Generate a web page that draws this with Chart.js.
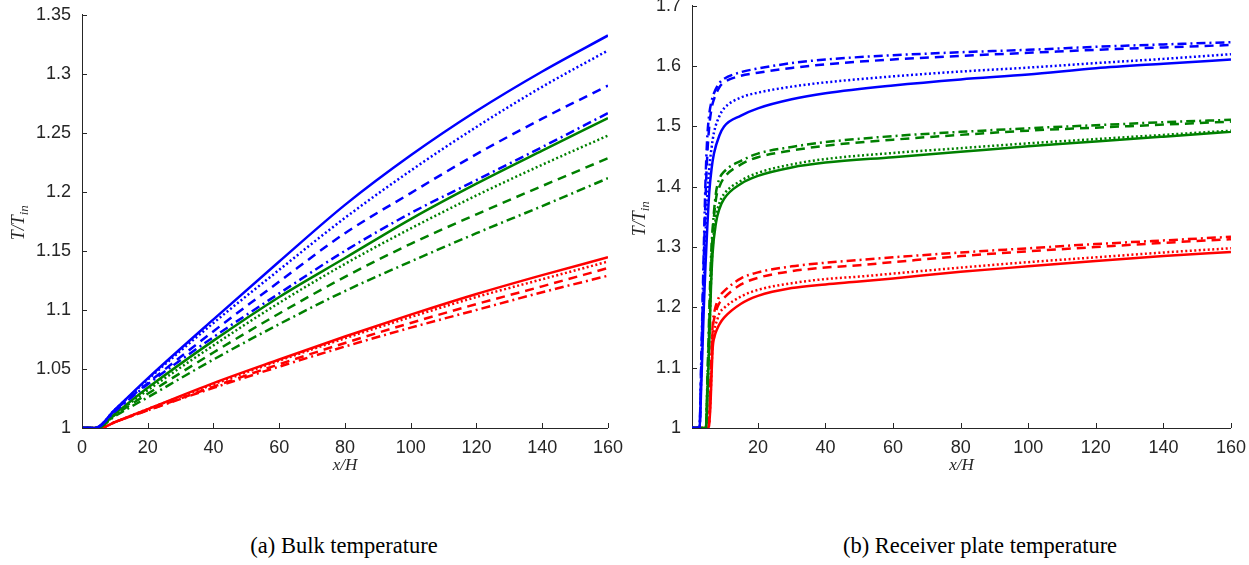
<!DOCTYPE html>
<html>
<head>
<meta charset="utf-8">
<script src="https://cdn.jsdelivr.net/npm/chart.js@4"></script>
<style>
  body { margin: 0; background: #fff; width: 1249px; height: 565px; position: relative; overflow: hidden; }
  .panel { position: absolute; }
  /* chart.js keeps half a label + tick padding above the plot and right of it,
     so the canvases are shifted/enlarged to land the plot boxes where matlab had them */
  #p1 { left: 0; top: -7px; }
  #p2 { left: 620px; top: -16px; }
  .cap { position: absolute; top: 533px; font: 22.5px "Liberation Serif", serif; color: #000; white-space: nowrap; transform: translateX(-50%); }
</style>
</head>
<body>
<div class="panel" id="p1"><canvas id="bulk" width="632" height="477"></canvas></div>
<div class="panel" id="p2"><canvas id="plate" width="635" height="486"></canvas></div>
<div class="cap" style="left:344px">(a) Bulk temperature</div>
<div class="cap" style="left:980px">(b) Receiver plate temperature</div>
<script>
// ---- tick labels
const bulkXTicks = [0, 20, 40, 60, 80, 100, 120, 140, 160];
const bulkYTicks = [1, 1.05, 1.1, 1.15, 1.2, 1.25, 1.3, 1.35];
const plateXTicks = [20, 40, 60, 80, 100, 120, 140, 160];
const plateYTicks = [1, 1.1, 1.2, 1.3, 1.4, 1.5, 1.6, 1.7];

// ---- (a) bulk temperature, x/H positions per colour group
const bulkXBlue  = [0, 4, 10, 20, 40, 60, 80, 100, 120, 140, 160];
const bulkXGreen = [0, 4.5, 10, 20, 40, 60, 80, 100, 120, 140, 160];
const bulkXRed   = [0, 5.5, 10, 20, 40, 60, 80, 100, 120, 140, 160];

const bulkBlueSolid   = [1, 1, 1.0156, 1.042, 1.092, 1.141, 1.189, 1.231, 1.2685, 1.302, 1.3325];
const bulkBlueDotted  = [1, 1, 1.0155, 1.041, 1.089, 1.134, 1.178, 1.218, 1.255, 1.289, 1.3198];
const bulkBlueDashed  = [1, 1, 1.015, 1.038, 1.082, 1.124, 1.165, 1.199, 1.232, 1.262, 1.290];
const bulkBlueDashDot = [1, 1, 1.014, 1.037, 1.077, 1.114, 1.150, 1.182, 1.210, 1.238, 1.2667];

const bulkGreenSolid   = [1, 1, 1.012, 1.034, 1.074, 1.111, 1.144, 1.177, 1.207, 1.235, 1.2624];
const bulkGreenDotted  = [1, 1, 1.0115, 1.032, 1.070, 1.106, 1.139, 1.169, 1.197, 1.223, 1.2477];
const bulkGreenDashed  = [1, 1, 1.011, 1.029, 1.064, 1.097, 1.128, 1.156, 1.181, 1.205, 1.2285];
const bulkGreenDashDot = [1, 1, 1.010, 1.026, 1.058, 1.088, 1.116, 1.141, 1.165, 1.188, 1.2116];

const bulkRedSolid   = [1, 1, 1.005, 1.016, 1.038, 1.058, 1.0775, 1.096, 1.1135, 1.1295, 1.1446];
const bulkRedDotted  = [1, 1, 1.005, 1.016, 1.037, 1.057, 1.076, 1.094, 1.111, 1.126, 1.141];
const bulkRedDashed  = [1, 1, 1.005, 1.015, 1.035, 1.054, 1.072, 1.089, 1.105, 1.120, 1.1355];
const bulkRedDashDot = [1, 1, 1.005, 1.015, 1.034, 1.052, 1.069, 1.085, 1.100, 1.115, 1.129];

// ---- (b) receiver plate temperature
const plateXBlue  = [0.5, 2.7, 3.3, 4, 4.5, 5, 5.6, 6.3, 7, 8.6, 10, 15, 20, 30, 40, 60, 80, 100, 120, 140, 160];
const plateXGreen = [0.5, 4.6, 5.1, 5.6, 6.1, 6.6, 7.6, 8.6, 10, 15, 20, 30, 40, 60, 80, 100, 120, 140, 160];
const plateXRed   = [0.5, 5.4, 5.9, 6.6, 7.2, 8, 8.6, 10, 15, 20, 30, 40, 50, 60, 80, 100, 120, 140, 160];

const plateBlueSolid   = [1, 1, 1.08, 1.20, 1.27, 1.33, 1.39, 1.43, 1.455, 1.485, 1.500, 1.518, 1.530, 1.545, 1.555, 1.568, 1.578, 1.586, 1.5965, 1.604, 1.611];
const plateBlueDotted  = [1, 1, 1.10, 1.24, 1.32, 1.38, 1.43, 1.465, 1.49, 1.517, 1.530, 1.548, 1.556, 1.566, 1.573, 1.583, 1.591, 1.5975, 1.605, 1.612, 1.6197];
const plateBlueDashed  = [1, 1, 1.12, 1.28, 1.38, 1.45, 1.50, 1.53, 1.545, 1.565, 1.573, 1.584, 1.589, 1.597, 1.603, 1.611, 1.617, 1.622, 1.627, 1.631, 1.635];
const plateBlueDashDot = [1, 1, 1.13, 1.30, 1.41, 1.48, 1.52, 1.542, 1.555, 1.572, 1.579, 1.590, 1.596, 1.605, 1.611, 1.618, 1.623, 1.627, 1.632, 1.636, 1.6396];

const plateGreenSolid   = [1, 1, 1.06, 1.14, 1.23, 1.29, 1.34, 1.363, 1.380, 1.405, 1.418, 1.432, 1.440, 1.449, 1.458, 1.467, 1.475, 1.483, 1.491];
const plateGreenDotted  = [1, 1, 1.07, 1.15, 1.24, 1.30, 1.35, 1.373, 1.388, 1.410, 1.423, 1.437, 1.446, 1.456, 1.464, 1.472, 1.479, 1.486, 1.493];
const plateGreenDashed  = [1, 1, 1.08, 1.17, 1.26, 1.32, 1.38, 1.400, 1.415, 1.437, 1.449, 1.460, 1.468, 1.478, 1.486, 1.493, 1.498, 1.503, 1.508];
const plateGreenDashDot = [1, 1, 1.09, 1.19, 1.28, 1.33, 1.39, 1.413, 1.425, 1.443, 1.455, 1.466, 1.474, 1.484, 1.491, 1.497, 1.502, 1.507, 1.511];

const plateRedSolid   = [1, 1, 1.03, 1.13, 1.152, 1.165, 1.172, 1.183, 1.206, 1.219, 1.232, 1.238, 1.2427, 1.248, 1.259, 1.268, 1.277, 1.285, 1.292];
const plateRedDotted  = [1, 1, 1.04, 1.14, 1.165, 1.180, 1.190, 1.199, 1.218, 1.229, 1.240, 1.247, 1.251, 1.256, 1.266, 1.275, 1.283, 1.291, 1.298];
const plateRedDashed  = [1, 1, 1.06, 1.16, 1.185, 1.200, 1.207, 1.216, 1.238, 1.249, 1.260, 1.266, 1.270, 1.275, 1.285, 1.293, 1.300, 1.307, 1.313];
const plateRedDashDot = [1, 1, 1.07, 1.17, 1.195, 1.210, 1.218, 1.227, 1.248, 1.258, 1.268, 1.274, 1.2786, 1.283, 1.291, 1.298, 1.305, 1.311, 1.317];

const AXIS = '#262626';
const dashes = { solid: [], dotted: [2, 2.5], dashed: [9, 6], dashdot: [9, 4, 2, 4] };

function pts(xs, ys) {
  return xs.map((x, i) => ({ x: x, y: ys[i] }));
}

function line(xs, ys, color, style) {
  return {
    data: pts(xs, ys),
    borderColor: color,
    backgroundColor: color,
    borderWidth: 2.5,
    borderDash: dashes[style],
    pointRadius: 0,
    fill: false,
    cubicInterpolationMode: 'monotone'
  };
}

// inward ticks + axis titles, matlab style
const axisDeco = {
  id: 'axisDeco',
  afterDraw(chart, args, opts) {
    const ctx = chart.ctx;
    const a = chart.chartArea;
    const sx = chart.scales.x, sy = chart.scales.y;
    ctx.save();
    ctx.strokeStyle = AXIS;
    ctx.lineWidth = 1;
    ctx.beginPath();
    sx.ticks.forEach(t => {
      const px = Math.round(sx.getPixelForValue(t.value)) + 0.5;
      ctx.moveTo(px, a.bottom);
      ctx.lineTo(px, a.bottom - 5);
    });
    sy.ticks.forEach(t => {
      const py = Math.round(sy.getPixelForValue(t.value)) + 0.5;
      ctx.moveTo(a.left, py);
      ctx.lineTo(a.left + 5, py);
    });
    ctx.stroke();

    ctx.fillStyle = AXIS;
    ctx.textBaseline = 'middle';
    ctx.textAlign = 'center';
    ctx.font = 'italic 17px "Liberation Serif", serif';
    ctx.fillText('x/H', (a.left + a.right) / 2, a.bottom + 38);

    // T/T_in rotated
    ctx.translate(opts.titleX, a.top + opts.titleDy);
    ctx.rotate(-Math.PI / 2);
    ctx.textAlign = 'left';
    ctx.textBaseline = 'alphabetic';
    const main = 'T/T', sub = 'in';
    ctx.font = 'italic 18px "Liberation Serif", serif';
    const w1 = ctx.measureText(main).width;
    ctx.font = 'italic 13px "Liberation Serif", serif';
    const w2 = ctx.measureText(sub).width;
    const x0 = -(w1 + w2) / 2;
    ctx.font = 'italic 18px "Liberation Serif", serif';
    ctx.fillText(main, x0, 5);
    ctx.font = 'italic 13px "Liberation Serif", serif';
    ctx.fillText(sub, x0 + w1, 9);
    ctx.restore();
  }
};

function makeChart(id, datasets, cfg) {
  const tickFont = { family: '"Liberation Sans", Arial, sans-serif', size: 18 };
  return new Chart(document.getElementById(id), {
    type: 'line',
    data: { datasets: datasets },
    plugins: [axisDeco],
    options: {
      responsive: false,
      animation: false,
      layout: { padding: 0 },
      plugins: {
        legend: { display: false },
        tooltip: { enabled: false },
        axisDeco: { titleX: cfg.titleX, titleDy: cfg.titleDy }
      },
      scales: {
        x: {
          type: 'linear',
          min: cfg.xMin, max: 160,
          afterBuildTicks: s => { s.ticks = cfg.xTicks.map(v => ({ value: v })); },
          afterFit: s => { s.height = 42; },
          grid: { display: false, drawTicks: false, tickLength: 0 },
          border: { display: true, color: AXIS, width: 1 },
          ticks: { color: AXIS, font: tickFont, padding: 9, maxRotation: 0, autoSkip: false,
                   callback: v => String(v) }
        },
        y: {
          type: 'linear',
          min: cfg.yMin, max: cfg.yMax,
          afterBuildTicks: s => { s.ticks = cfg.yTicks.map(v => ({ value: v })); },
          afterFit: s => { s.width = cfg.yWidth; },
          grid: { display: false, drawTicks: false, tickLength: 0 },
          border: { display: true, color: AXIS, width: 1 },
          ticks: { color: AXIS, font: tickFont, padding: 11, autoSkip: false,
                   callback: v => String(+Number(v).toFixed(2)) }
        }
      }
    }
  });
}

const BLUE = '#0000ff', GREEN = '#008000', RED = '#ff0000';

makeChart('bulk', [
  line(bulkXBlue, bulkBlueSolid, BLUE, 'solid'),
  line(bulkXBlue, bulkBlueDotted, BLUE, 'dotted'),
  line(bulkXBlue, bulkBlueDashed, BLUE, 'dashed'),
  line(bulkXBlue, bulkBlueDashDot, BLUE, 'dashdot'),
  line(bulkXGreen, bulkGreenSolid, GREEN, 'solid'),
  line(bulkXGreen, bulkGreenDotted, GREEN, 'dotted'),
  line(bulkXGreen, bulkGreenDashed, GREEN, 'dashed'),
  line(bulkXGreen, bulkGreenDashDot, GREEN, 'dashdot'),
  line(bulkXRed, bulkRedSolid, RED, 'solid'),
  line(bulkXRed, bulkRedDotted, RED, 'dotted'),
  line(bulkXRed, bulkRedDashed, RED, 'dashed'),
  line(bulkXRed, bulkRedDashDot, RED, 'dashdot')
], {
  yWidth: 82, xMin: 0, yMin: 1, yMax: 1.35,
  xTicks: bulkXTicks, yTicks: bulkYTicks,
  titleX: 19, titleDy: 208
});

makeChart('plate', [
  line(plateXBlue, plateBlueSolid, BLUE, 'solid'),
  line(plateXBlue, plateBlueDotted, BLUE, 'dotted'),
  line(plateXBlue, plateBlueDashed, BLUE, 'dashed'),
  line(plateXBlue, plateBlueDashDot, BLUE, 'dashdot'),
  line(plateXGreen, plateGreenSolid, GREEN, 'solid'),
  line(plateXGreen, plateGreenDotted, GREEN, 'dotted'),
  line(plateXGreen, plateGreenDashed, GREEN, 'dashed'),
  line(plateXGreen, plateGreenDashDot, GREEN, 'dashdot'),
  line(plateXRed, plateRedSolid, RED, 'solid'),
  line(plateXRed, plateRedDotted, RED, 'dotted'),
  line(plateXRed, plateRedDashed, RED, 'dashed'),
  line(plateXRed, plateRedDashDot, RED, 'dashdot')
], {
  yWidth: 72, xMin: 0.5, yMin: 1, yMax: 1.7,
  xTicks: plateXTicks, yTicks: plateYTicks,
  titleX: 20, titleDy: 213
});
</script>
</body>
</html>
